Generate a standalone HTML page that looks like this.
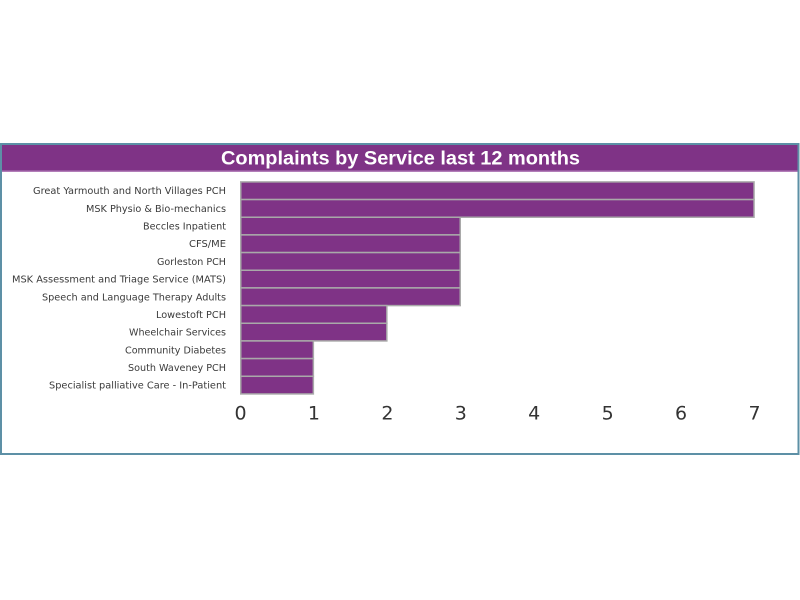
<!DOCTYPE html>
<html>
<head>
<meta charset="utf-8">
<style>
  html, body { margin: 0; padding: 0; background: #ffffff; }
  body { width: 800px; height: 600px; overflow: hidden; }
  svg { display: block; }
</style>
</head>
<body>
<svg width="800" height="600" viewBox="0 0 800 600" xmlns="http://www.w3.org/2000/svg">
  <rect x="0" y="0" width="800" height="600" fill="#ffffff"/>
  <!-- frame -->
  <rect x="1" y="144" width="797.5" height="310" fill="#ffffff" stroke="#5d90a6" stroke-width="2"/>
  <!-- title bar -->
  <rect x="2" y="145" width="795.5" height="25.5" fill="#7f3386"/>
  <rect x="2" y="170.5" width="795.5" height="1.5" fill="#b27db8"/>
  <text x="221" y="164.5" font-family="Liberation Sans, sans-serif" font-weight="bold" font-size="19" fill="#ffffff" textLength="359" lengthAdjust="spacingAndGlyphs">Complaints by Service last 12 months</text>

  <!-- bars -->
  <g fill="#7f3386" stroke="#a9a9a9" stroke-width="1.5">
    <rect x="240.75" y="181.9" width="513.3" height="17.67"/>
    <rect x="240.75" y="199.57" width="513.3" height="17.67"/>
    <rect x="240.75" y="217.24" width="219.5" height="17.67"/>
    <rect x="240.75" y="234.91" width="219.5" height="17.67"/>
    <rect x="240.75" y="252.58" width="219.5" height="17.67"/>
    <rect x="240.75" y="270.25" width="219.5" height="17.67"/>
    <rect x="240.75" y="287.92" width="219.5" height="17.67"/>
    <rect x="240.75" y="305.59" width="146.1" height="17.67"/>
    <rect x="240.75" y="323.26" width="146.1" height="17.67"/>
    <rect x="240.75" y="340.93" width="72.6" height="17.67"/>
    <rect x="240.75" y="358.6" width="72.6" height="17.67"/>
    <rect x="240.75" y="376.27" width="72.6" height="17.67"/>
  </g>

  <!-- category labels -->
  <g font-family="DejaVu Sans, Verdana, sans-serif" font-size="10" fill="#3a3a3a" text-anchor="end">
    <text x="226" y="194.2" textLength="193" lengthAdjust="spacingAndGlyphs">Great Yarmouth and North Villages PCH</text>
    <text x="226" y="211.9" textLength="140" lengthAdjust="spacingAndGlyphs">MSK Physio &amp; Bio-mechanics</text>
    <text x="226" y="229.6" textLength="83" lengthAdjust="spacingAndGlyphs">Beccles Inpatient</text>
    <text x="226" y="247.2" textLength="37" lengthAdjust="spacingAndGlyphs">CFS/ME</text>
    <text x="226" y="264.9" textLength="69" lengthAdjust="spacingAndGlyphs">Gorleston PCH</text>
    <text x="226" y="282.6" textLength="214" lengthAdjust="spacingAndGlyphs">MSK Assessment and Triage Service (MATS)</text>
    <text x="226" y="300.3" textLength="184" lengthAdjust="spacingAndGlyphs">Speech and Language Therapy Adults</text>
    <text x="226" y="317.9" textLength="70" lengthAdjust="spacingAndGlyphs">Lowestoft PCH</text>
    <text x="226" y="335.6" textLength="97" lengthAdjust="spacingAndGlyphs">Wheelchair Services</text>
    <text x="226" y="353.3" textLength="101" lengthAdjust="spacingAndGlyphs">Community Diabetes</text>
    <text x="226" y="370.9" textLength="98" lengthAdjust="spacingAndGlyphs">South Waveney PCH</text>
    <text x="226" y="388.6" textLength="177" lengthAdjust="spacingAndGlyphs">Specialist palliative Care - In-Patient</text>
  </g>

  <!-- x tick labels -->
  <g font-family="DejaVu Sans, Verdana, sans-serif" font-size="19" fill="#333333" text-anchor="middle">
    <text x="240.5" y="419.5">0</text>
    <text x="313.9" y="419.5">1</text>
    <text x="387.4" y="419.5">2</text>
    <text x="460.8" y="419.5">3</text>
    <text x="534.2" y="419.5">4</text>
    <text x="607.7" y="419.5">5</text>
    <text x="681.1" y="419.5">6</text>
    <text x="754.5" y="419.5">7</text>
  </g>
</svg>
</body>
</html>
